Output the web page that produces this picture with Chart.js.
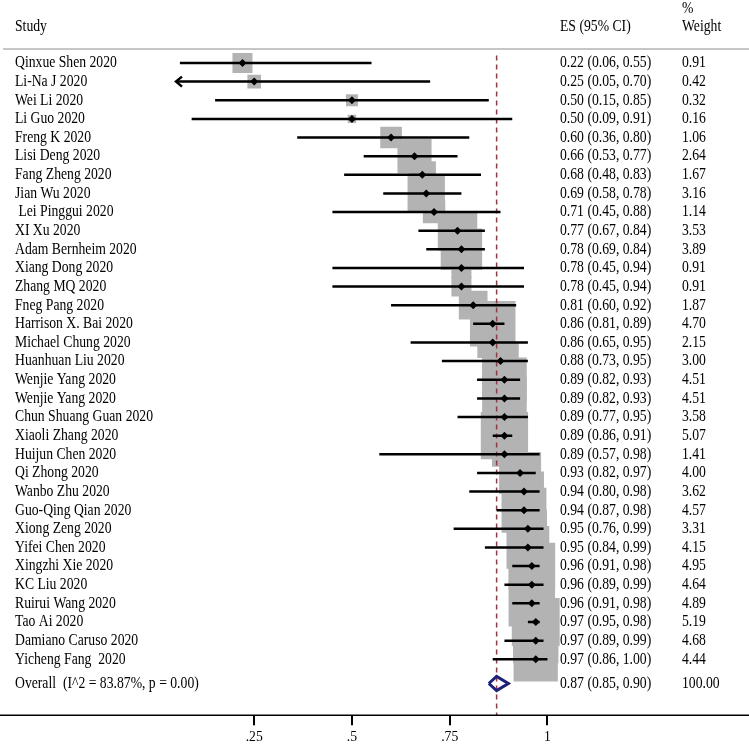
<!DOCTYPE html>
<html>
<head>
<meta charset="utf-8">
<script src="https://cdn.jsdelivr.net/npm/chart.js@4.4.1/dist/chart.umd.min.js"></script>
<style>
html, body { margin: 0; padding: 0; background: #fff; }
#wrap { width: 749px; height: 749px; }
</style>
</head>
<body>
<div id="wrap"><canvas id="forest" width="749" height="749"></canvas></div>
<script>
var studies = ['Qinxue Shen 2020', 'Li-Na J 2020', 'Wei Li 2020', 'Li Guo 2020', 'Freng K 2020',
    'Lisi Deng 2020', 'Fang Zheng 2020', 'Jian Wu 2020', ' Lei Pinggui 2020', 'XI Xu 2020',
    'Adam Bernheim 2020', 'Xiang Dong 2020', 'Zhang MQ 2020', 'Fneg Pang 2020', 'Harrison X. Bai 2020',
    'Michael Chung 2020', 'Huanhuan Liu 2020', 'Wenjie Yang 2020', 'Wenjie Yang 2020', 'Chun Shuang Guan 2020',
    'Xiaoli Zhang 2020', 'Huijun Chen 2020', 'Qi Zhong 2020', 'Wanbo Zhu 2020', 'Guo-Qing Qian 2020',
    'Xiong Zeng 2020', 'Yifei Chen 2020', 'Xingzhi Xie 2020', 'KC Liu 2020', 'Ruirui Wang 2020',
    'Tao Ai 2020', 'Damiano Caruso 2020', 'Yicheng Fang  2020'];
var es = [0.22, 0.25, 0.50, 0.50, 0.60, 0.66, 0.68, 0.69, 0.71, 0.77, 0.78, 0.78, 0.78, 0.81, 0.86, 0.86, 0.88,
    0.89, 0.89, 0.89, 0.89, 0.89, 0.93, 0.94, 0.94, 0.95, 0.95, 0.96, 0.96, 0.96, 0.97, 0.97, 0.97];
var ciLow = [0.06, 0.05, 0.15, 0.09, 0.36, 0.53, 0.48, 0.58, 0.45, 0.67, 0.69, 0.45, 0.45, 0.60, 0.81, 0.65, 0.73,
    0.82, 0.82, 0.77, 0.86, 0.57, 0.82, 0.80, 0.87, 0.76, 0.84, 0.91, 0.89, 0.91, 0.95, 0.89, 0.86];
var ciHigh = [0.55, 0.70, 0.85, 0.91, 0.80, 0.77, 0.83, 0.78, 0.88, 0.84, 0.84, 0.94, 0.94, 0.92, 0.89, 0.95, 0.95,
    0.93, 0.93, 0.95, 0.91, 0.98, 0.97, 0.98, 0.98, 0.99, 0.99, 0.98, 0.99, 0.98, 0.98, 0.99, 1.00];
var weights = [0.91, 0.42, 0.32, 0.16, 1.06, 2.64, 1.67, 3.16, 1.14, 3.53, 3.89, 0.91, 0.91, 1.87, 4.70, 2.15, 3.00,
    4.51, 4.51, 3.58, 5.07, 1.41, 4.00, 3.62, 4.57, 3.31, 4.15, 4.95, 4.64, 4.89, 5.19, 4.68, 4.44];

var overallLabel = 'Overall  (I^2 = 83.87%, p = 0.00)';
var overallEs = 0.87;
var overallLow = 0.85;
var overallHigh = 0.90;
var overallWeight = 100.00;

var xTicks = [0.25, 0.5, 0.75, 1];
var xMin = 0.05;
var xMax = 1.05;

var overallRow = 33.3;
var FONT = '13.7px "Liberation Serif", "Times New Roman", serif';

var boxData = es.map(function (v, i) { return {x: v, y: i}; });
// square side grows with sqrt(weight), like stata
var boxRadius = weights.map(function (w) { return 21 * Math.sqrt(w) / Math.SQRT2; });

var ciData = [];
es.forEach(function (v, i) {
    ciData.push({x: ciLow[i], y: i}, {x: ciHigh[i], y: i}, {x: null, y: null});
});

var diamond = [
    {x: overallLow, y: overallRow},
    {x: overallEs, y: overallRow - 0.38},
    {x: overallHigh, y: overallRow},
    {x: overallEs, y: overallRow + 0.38},
    {x: overallLow, y: overallRow}
];

function stretchText(ctx, s, x, y) {
    ctx.save();
    ctx.translate(x, y);
    ctx.scale(1, 1.2);
    ctx.fillText(s, 0, 0);
    ctx.restore();
}

var forestText = {
    id: 'forestText',
    afterDraw: function (chart) {
        var ctx = chart.ctx;
        var xs = chart.scales.x, ys = chart.scales.y;
        var area = chart.chartArea;
        ctx.save();

        // header rule
        ctx.strokeStyle = '#c6c6c6';
        ctx.lineWidth = 2;
        ctx.beginPath();
        ctx.moveTo(3, area.top);
        ctx.lineTo(749, area.top);
        ctx.stroke();

        // x axis line runs the full width
        ctx.strokeStyle = '#000';
        ctx.lineWidth = 1.5;
        ctx.beginPath();
        ctx.moveTo(0, area.bottom);
        ctx.lineTo(749, area.bottom);
        ctx.stroke();

        // arrows for CIs cut by the axis
        ctx.lineWidth = 2.5;
        ciLow.forEach(function (lo, i) {
            if (lo > xMin) return;
            var px = xs.getPixelForValue(xMin), py = ys.getPixelForValue(i);
            ctx.beginPath();
            ctx.moveTo(px + 6, py - 5);
            ctx.lineTo(px, py);
            ctx.lineTo(px + 6, py + 5);
            ctx.stroke();
        });

        ctx.fillStyle = '#000';
        ctx.font = FONT;
        ctx.textBaseline = 'middle';
        ctx.textAlign = 'left';

        stretchText(ctx, 'Study', 15, 27);
        stretchText(ctx, 'ES (95% CI)', 560, 27);
        stretchText(ctx, '%', 682, 9);
        stretchText(ctx, 'Weight', 682, 27);

        studies.forEach(function (name, i) {
            var py = ys.getPixelForValue(i);
            stretchText(ctx, name, 15, py);
            stretchText(ctx, es[i].toFixed(2) + ' (' + ciLow[i].toFixed(2) + ', ' + ciHigh[i].toFixed(2) + ')', 560, py);
            stretchText(ctx, weights[i].toFixed(2), 682, py);
        });

        var oy = ys.getPixelForValue(overallRow);
        stretchText(ctx, overallLabel, 15, oy);
        stretchText(ctx, overallEs.toFixed(2) + ' (' + overallLow.toFixed(2) + ', ' + overallHigh.toFixed(2) + ')', 560, oy);
        stretchText(ctx, overallWeight.toFixed(2), 682, oy);

        ctx.restore();
    }
};

var ctx = document.getElementById('forest').getContext('2d');
var forestChart = new Chart(ctx, {
    type: 'scatter',
    data: {
        datasets: [{
            type: 'line', data: diamond, borderColor: '#1f1f7c', borderWidth: 3,
            pointRadius: 0, fill: false, tension: 0, order: 0
        }, {
            data: boxData, pointStyle: 'rectRot', pointRadius: 4,
            backgroundColor: '#000', borderWidth: 0, order: 1
        }, {
            type: 'line', data: ciData, borderColor: '#000', borderWidth: 2.5,
            pointRadius: 0, spanGaps: false, fill: false, order: 2
        }, {
            type: 'line', data: [{x: overallEs, y: -0.4}, {x: overallEs, y: 35}],
            borderColor: '#a5303f', borderWidth: 1.5, borderDash: [5, 4],
            pointRadius: 0, fill: false, order: 3
        }, {
            data: boxData, pointStyle: 'rect', pointRadius: boxRadius,
            backgroundColor: '#b3b3b3', borderWidth: 0, order: 4
        }]
    },
    options: {
        responsive: false,
        animation: false,
        events: [],
        layout: {padding: {left: 176, right: 182, top: 49, bottom: 0}},
        plugins: {legend: {display: false}, tooltip: {enabled: false}},
        scales: {
            x: {
                type: 'linear', min: xMin, max: xMax,
                afterBuildTicks: function (s) { s.ticks = xTicks.map(function (v) { return {value: v}; }); },
                afterFit: function (s) { s.height = 33; },
                grid: {drawOnChartArea: false, drawTicks: true, tickLength: 10, color: '#000', lineWidth: 2},
                border: {display: false},
                ticks: {
                    font: {family: '"Liberation Serif"', size: 13.7}, color: '#000', padding: 4,
                    maxRotation: 0, autoSkip: false,
                    callback: function (v) { return v === 1 ? '1' : String(v).replace(/^0/, ''); }
                }
            },
            y: {type: 'linear', display: false, reverse: true, min: -0.75, max: 35}
        }
    },
    plugins: [forestText]
});
</script>
</body>
</html>
